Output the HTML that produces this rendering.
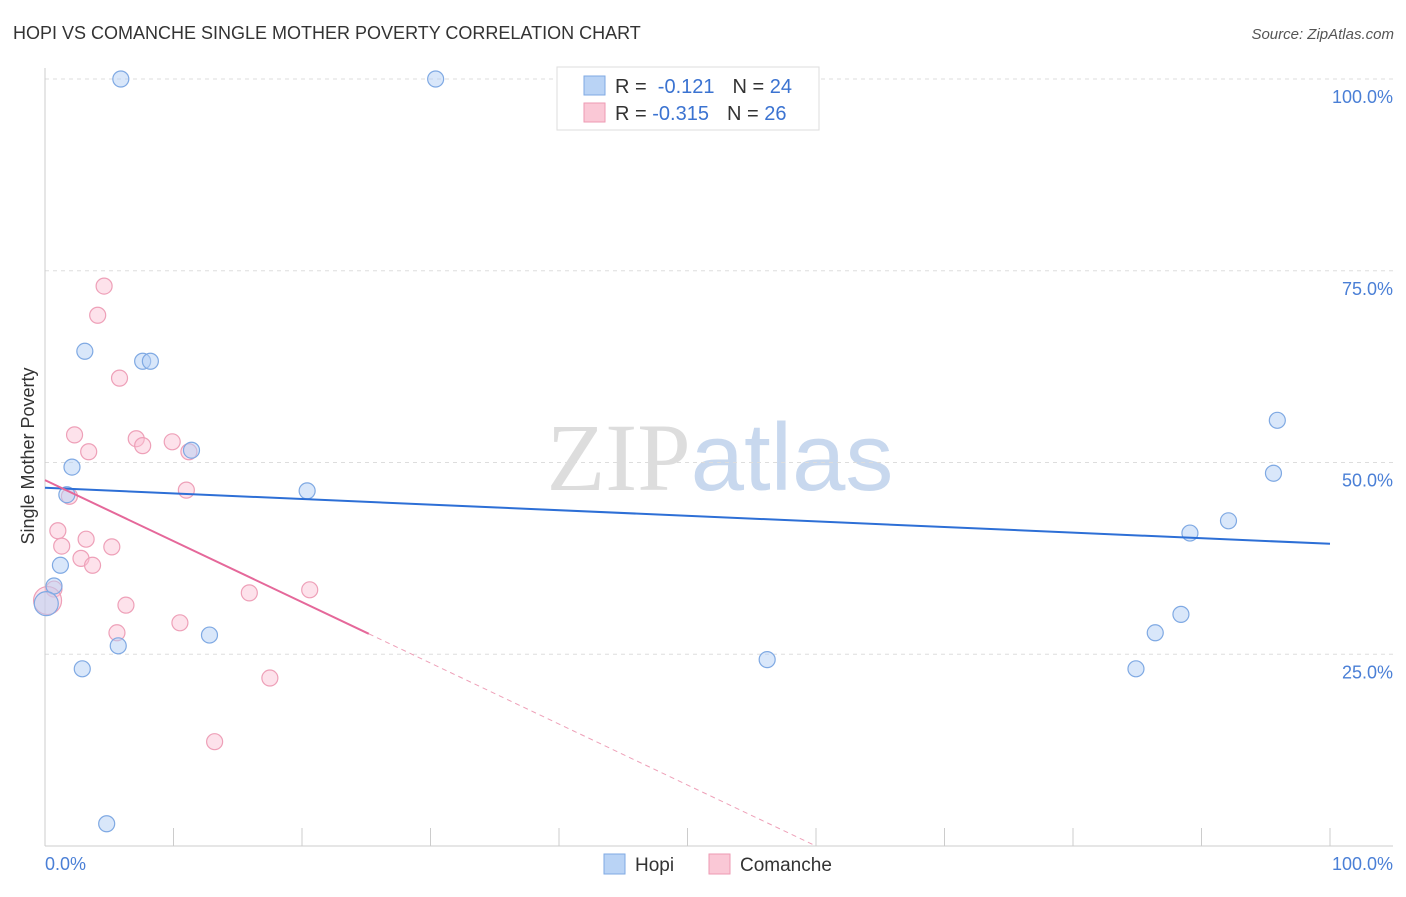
<!DOCTYPE html>
<html><head><meta charset="utf-8"><style>
body{margin:0;background:#fff;font-family:"Liberation Sans",sans-serif;}
svg text{font-family:"Liberation Sans",sans-serif;}
</style></head><body>
<svg id="chart" width="1406" height="892" xmlns="http://www.w3.org/2000/svg">
<text x="13" y="39" font-size="18" fill="#333">HOPI VS COMANCHE SINGLE MOTHER POVERTY CORRELATION CHART</text>
<text x="1394" y="39" font-size="15" fill="#555" font-style="italic" text-anchor="end">Source: ZipAtlas.com</text>
<text x="720" y="490" font-size="96" text-anchor="middle"><tspan fill="#ddd" font-family="Liberation Serif">ZIP</tspan><tspan fill="#c8d8ee">atlas</tspan></text>
<g id="grid"></g>
<g id="axes"></g>
<g id="marks"></g>
<text transform="translate(34,456) rotate(-90)" font-size="18" fill="#333" text-anchor="middle">Single Mother Poverty</text>
<text x="45" y="870" font-size="18" fill="#4a7fd6">0.0%</text>
<text x="1393" y="870" font-size="18" fill="#4a7fd6" text-anchor="end">100.0%</text>
<g>
<rect x="557" y="67" width="262" height="63" fill="#fff" stroke="#ddd"/>
<rect x="584" y="76" width="21" height="19" fill="#b9d3f5" stroke="#7fa9e3"/>
<rect x="584" y="103" width="21" height="19" fill="#fac8d6" stroke="#ee9ab3"/>
<text x="615" y="93" font-size="20" fill="#333">R = <tspan fill="#3b73d1">&#160;-0.121</tspan><tspan dx="18" fill="#333">N = </tspan><tspan fill="#3b73d1">24</tspan></text>
<text x="615" y="120" font-size="20" fill="#333">R = <tspan fill="#3b73d1">-0.315</tspan><tspan dx="18" fill="#333">N = </tspan><tspan fill="#3b73d1">26</tspan></text>
</g>
<g>
<rect x="604" y="854" width="21" height="20" fill="#b9d3f5" stroke="#7fa9e3"/>
<text x="635" y="871" font-size="19" fill="#333">Hopi</text>
<rect x="709" y="854" width="21" height="20" fill="#fac8d6" stroke="#ee9ab3"/>
<text x="740" y="871" font-size="19" fill="#333">Comanche</text>
</g>
</svg>
<script>
const hopiX=[5.9,30.4,3.1,7.6,8.2,2.1,11.4,1.7,20.4,1.2,0.7,0.1,5.7,2.9,12.8,4.8,56.2,95.9,95.6,92.1,89.1,88.4,86.4,84.9];
const hopiY=[100,100,64.5,63.2,63.2,49.4,51.6,45.8,46.3,36.6,33.9,31.6,26.1,23.1,27.5,2.9,24.3,55.5,48.6,42.4,40.8,30.2,27.8,23.1];
const comX=[4.6,4.1,5.8,2.3,3.4,7.1,7.6,9.9,11.2,11.0,1.9,1.0,3.2,1.3,5.2,2.8,3.7,0.7,6.3,15.9,20.6,5.6,10.5,17.5,13.2,0.2];
const comY=[73.0,69.2,61.0,53.6,51.4,53.1,52.2,52.7,51.4,46.4,45.6,41.1,40.0,39.1,39.0,37.5,36.6,33.5,31.4,33.0,33.4,27.8,29.1,21.9,13.6,32.0];
const hopiTrend=[46.7,39.4];
const comTrend=[47.7,-0.795];
const tickY=[25,50,75,100];
const tickLabels=["25.0%","50.0%","75.0%","100.0%"];
const NS="http://www.w3.org/2000/svg";
const X=v=>45+v*12.85, Y=v=>846-v*7.67;
function mk(t,a,p){const e=document.createElementNS(NS,t);for(const k in a)e.setAttribute(k,a[k]);p.appendChild(e);return e;}
const grid=document.getElementById('grid'),axes=document.getElementById('axes'),marks=document.getElementById('marks');
tickY.forEach((v,i)=>{
const l=mk('line',{x1:45,x2:1393,y1:Y(v),y2:Y(v),stroke:'#ddd','stroke-dasharray':'4,4'},grid);


const t=mk('text',{x:1393,y:Y(v)+24,'font-size':18,fill:'#4a7fd6','text-anchor':'end'},grid);
t.textContent=tickLabels[i];


});
const ya=mk('line',{x1:45,x2:45,y1:68,y2:846,stroke:'#ccc'},axes);


const xa=mk('line',{x1:45,x2:1393,y1:846,y2:846,stroke:'#ccc'},axes);


for(let i=0;i<=10;i++){const t=mk('line',{x1:X(i*10),x2:X(i*10),y1:828,y2:846,stroke:'#ccc'},axes);

}
comX.forEach((x,i)=>{const c=mk('circle',{cx:X(x),cy:Y(comY[i]),r:i==25?14:8,fill:'rgba(250,190,210,0.45)',stroke:'#eea0b8','stroke-width':1.2},marks);

});
hopiX.forEach((x,i)=>{const c=mk('circle',{cx:X(x),cy:Y(hopiY[i]),r:i==11?12:8,fill:'rgba(180,208,245,0.5)',stroke:'#7fa9e3','stroke-width':1.2},marks);

});
const h=mk('line',{x1:X(0),y1:Y(hopiTrend[0]),x2:X(100),y2:Y(hopiTrend[1]),stroke:'#2d6fd6','stroke-width':2},marks);


const cEnd=25.2, cZero=-comTrend[0]/comTrend[1];
const cs=mk('line',{x1:X(0),y1:Y(comTrend[0]),x2:X(cEnd),y2:Y(comTrend[0]+comTrend[1]*cEnd),stroke:'#e5689a','stroke-width':2},marks);


const cd=mk('line',{x1:X(cEnd),y1:Y(comTrend[0]+comTrend[1]*cEnd),x2:X(cZero),y2:Y(0),stroke:'#eea0b8','stroke-width':1,'stroke-dasharray':'5,4'},marks);


</script>
</body></html>
